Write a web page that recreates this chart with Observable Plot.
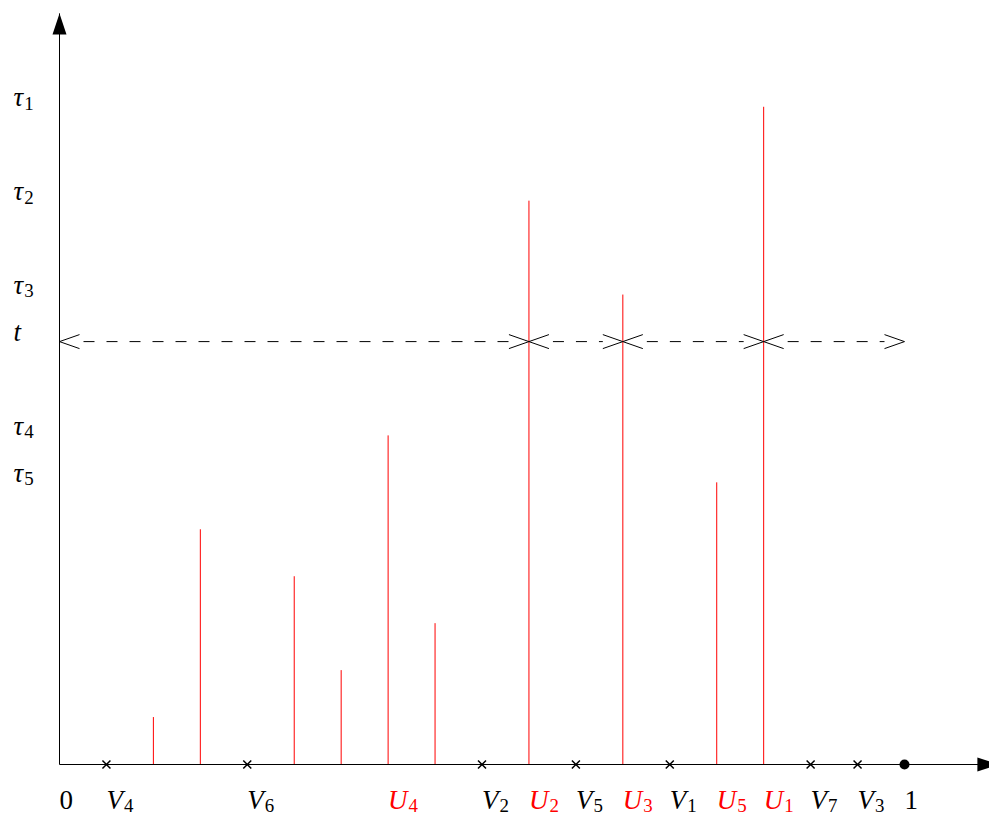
<!DOCTYPE html>
<html><head><meta charset="utf-8">
<script src="https://cdn.jsdelivr.net/npm/d3@7"></script>
<script src="https://cdn.jsdelivr.net/npm/@observablehq/plot@0.6"></script>
<style>
html,body{margin:0;padding:0;background:#fff;overflow:hidden}
#chart svg{display:block}
</style>
</head><body><div id="chart"></div>
<script>
// Positions on a grid of 1/18 (x: 0 -> "0", 18 -> "1"); heights in the same unit
const redX = [2, 3, 5, 6, 7, 8, 10, 12, 14, 15];
const redH = [1, 5, 4, 2, 7, 3, 12, 10, 6, 14];
const vX = [1, 4, 9, 11, 13, 16, 17];
const vNames = ["V4", "V6", "V2", "V5", "V1", "V7", "V3"];
const uX = [7, 10, 12, 14, 15];
const uNames = ["U4", "U2", "U3", "U5", "U1"];
const tauVals = [14, 12, 10, 7, 6];
const tauNames = ["τ1", "τ2", "τ3", "τ4", "τ5"];
const tVal = 9;
const tName = "t";
const cuts = [0, 10, 12, 15, 18];        // endpoints of the dashed arrows at level t
const endX = [0, 18];
const endNames = ["0", "1"];
const xAxisEnd = 20, yAxisEnd = 16;

const W = 989, H = 815;
const mL = 59, mR = 85, mB = 51;
const pxPerUnit = (W - mL - mR) / 18;
const mT = (H - mB) - yAxisEnd * pxPerUnit;

const redData = redX.map((x, i) => ({x, h: redH[i]}));
const vData = vX.map((x, i) => ({x, label: vNames[i]}));
const uData = uX.map((x, i) => ({x, label: uNames[i]}));
const tauData = tauVals.map((y, i) => ({y, label: tauNames[i]})).concat([{y: tVal, label: tName}]);
const endData = endX.map((x, i) => ({x, label: endNames[i]}));
const segs = d3.pairs(cuts).map(([a, b]) => ({a, b}));
const heads = segs.flatMap(s => [{x: s.a, rot: -90}, {x: s.b, rot: 90}]);
const axes = [{x1: 0, y1: 0, x2: xAxisEnd, y2: 0}, {x1: 0, y1: 0, x2: 0, y2: yAxisEnd}];
const axisTips = [{x: xAxisEnd, y: 0, rot: 90}, {x: 0, y: yAxisEnd, rot: 0}];

const crossSym = {draw(c) { c.moveTo(-4, -4); c.lineTo(4, 4); c.moveTo(4, -4); c.lineTo(-4, 4); }};
const filledArrow = {draw(c) { c.moveTo(0, 0); c.lineTo(-7, 21); c.lineTo(7, 21); c.closePath(); }};
const openArrow = {draw(c) { c.moveTo(-7, 20); c.lineTo(0, 0); c.lineTo(7, 20); }};

const headGapStart = 24 / pxPerUnit, headGapEnd = 20 / pxPerUnit;
const FONT = "Liberation Serif";
const FS = 27;
const labelDy = 44;

const plot = Plot.plot({
  width: W, height: H,
  marginLeft: mL, marginRight: mR, marginTop: mT, marginBottom: mB,
  x: {domain: [0, 18], axis: null},
  y: {domain: [0, yAxisEnd], axis: null},
  style: {fontFamily: FONT, fontSize: FS + "px", background: "#fff", overflow: "visible"},
  marks: [
    Plot.link(axes, {x1: "x1", y1: "y1", x2: "x2", y2: "y2", stroke: "black", strokeWidth: 1}),
    Plot.dot(axisTips, {x: "x", y: "y", rotate: "rot", symbol: filledArrow, fill: "black", stroke: "none"}),
    Plot.ruleX(redData, {x: "x", y1: 0, y2: "h", stroke: "#ff0000", strokeWidth: 1}),
    Plot.link(segs, {x1: d => d.a + headGapStart, x2: d => d.b - headGapEnd, y1: tVal, y2: tVal, dy: -0.4,
      stroke: "black", strokeWidth: 1, strokeDasharray: "11,12"}),
    Plot.dot(heads, {x: "x", y: tVal, dy: -0.4, rotate: "rot", symbol: openArrow, stroke: "black", fill: "none", strokeWidth: 1}),
    Plot.dot(vData, {x: "x", y: 0, symbol: crossSym, stroke: "black", fill: "none", strokeWidth: 1.5}),
    Plot.dot(endData.filter(d => d.x === 18), {x: "x", y: 0, r: 5, fill: "black", stroke: "none"}),
    Plot.text(vData, {x: "x", y: 0, text: "label", textAnchor: "start", lineAnchor: "bottom", dy: labelDy, fill: "black"}),
    Plot.text(uData, {x: "x", y: 0, text: "label", textAnchor: "start", lineAnchor: "bottom", dy: labelDy, fill: "#ff0000"}),
    Plot.text(endData, {x: "x", y: 0, text: "label", textAnchor: "start", lineAnchor: "bottom", dy: labelDy, fill: "black"}),
    Plot.text(tauData, {x: 0, y: "y", text: "label", textAnchor: "start", lineAnchor: "bottom", dx: -46, dy: -1, fill: "black"})
  ]
});

// typeset: italic letter, upright subscript digit
d3.select(plot).selectAll("text").each(function () {
  const s = this.textContent;
  const m = s.match(/^([^\d]+)(\d*)$/);
  if (!m) return;
  const sel = d3.select(this);
  sel.text("");
  sel.append("tspan").attr("font-style", "italic").text(m[1]);
  if (m[2]) sel.append("tspan").attr("font-size", "0.7em").attr("dx", "1").attr("dy", "0.18em").text(m[2]);
});

document.getElementById("chart").appendChild(plot);
</script>
</body></html>
